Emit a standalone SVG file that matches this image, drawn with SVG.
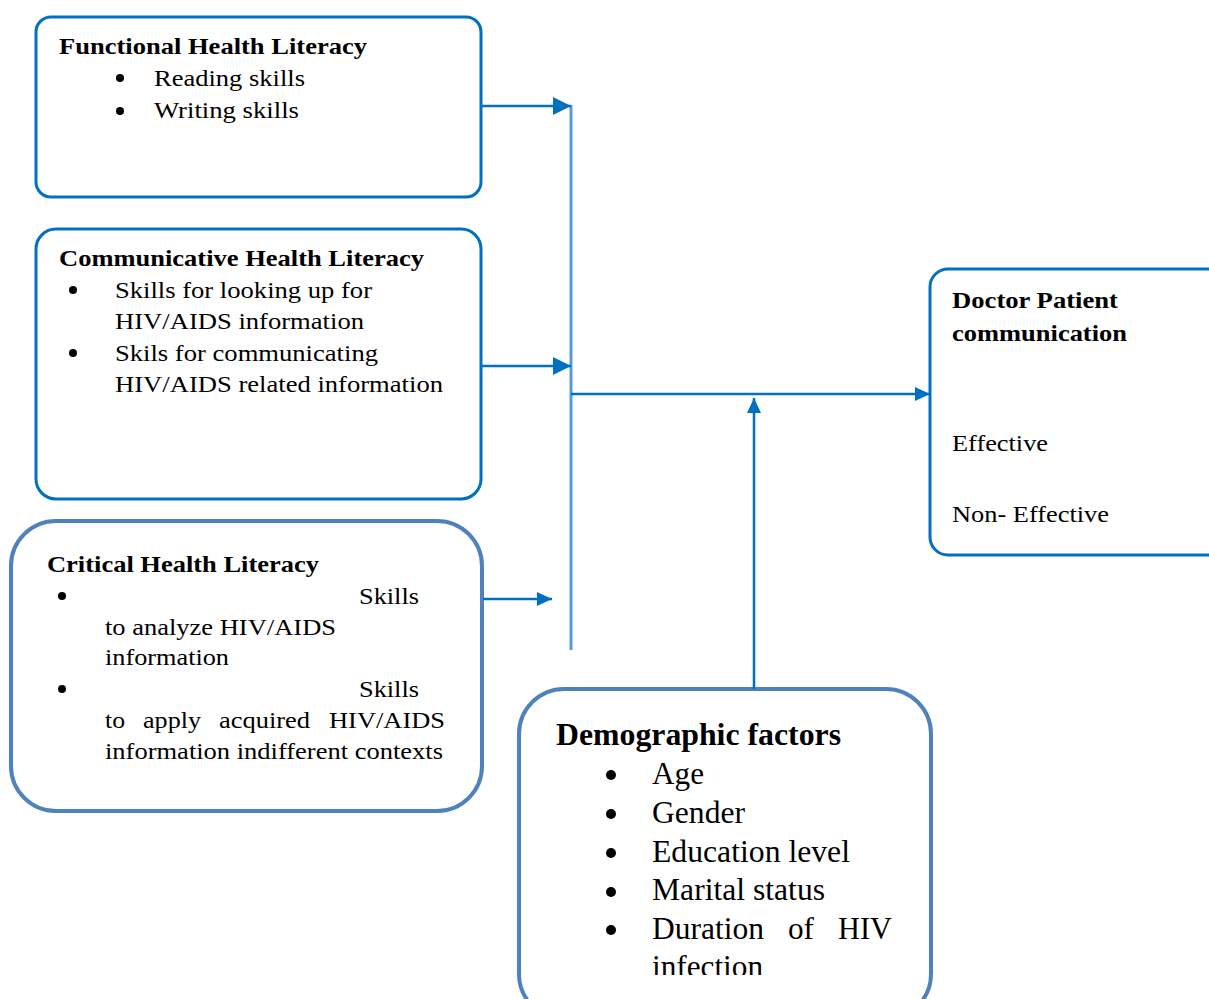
<svg xmlns="http://www.w3.org/2000/svg" width="1209" height="999" viewBox="0 0 1209 999">
<style>
.t{font-family:"Liberation Serif","Times New Roman",serif;font-size:23px;fill:#000}
.b{font-weight:bold}
.big{font-size:31px}
.box1{fill:#fff;stroke:#0070C0;stroke-width:3}
.box2{fill:#fff;stroke:#4F81BD;stroke-width:4}
.con{stroke:#0070C0;stroke-width:2.5;fill:none}
.spine{stroke:#5B9BD5;stroke-width:3;fill:none}
</style>
<defs>
<marker id="ah" markerUnits="userSpaceOnUse" markerWidth="20" markerHeight="20" refX="18" refY="9" orient="auto">
<path d="M0,0 L18,9 L0,18 Z" fill="#0070C0"/>
</marker>
<marker id="ahs" markerUnits="userSpaceOnUse" markerWidth="16" markerHeight="16" refX="15" refY="7" orient="auto">
<path d="M0,0 L15,7 L0,14 Z" fill="#0070C0"/>
</marker>
<clipPath id="clipDemo"><rect x="519" y="689" width="412" height="286"/></clipPath>
</defs>

<g id="functional">
<rect class="box1" x="36" y="17" width="445" height="180" rx="15"/>
<text class="t b" x="59" y="54" textLength="308" lengthAdjust="spacingAndGlyphs">Functional Health Literacy</text>
<circle cx="120" cy="78" r="4"/>
<text class="t" x="154" y="86" textLength="151" lengthAdjust="spacingAndGlyphs">Reading skills</text>
<circle cx="120" cy="111" r="4"/>
<text class="t" x="154" y="118" textLength="145" lengthAdjust="spacingAndGlyphs">Writing skills</text>
</g>

<g id="communicative">
<rect class="box1" x="36" y="229" width="445" height="270" rx="20"/>
<text class="t b" x="59" y="266" textLength="365" lengthAdjust="spacingAndGlyphs">Communicative Health Literacy</text>
<circle cx="73" cy="290" r="4"/>
<text class="t" x="115" y="298" textLength="257" lengthAdjust="spacingAndGlyphs">Skills for looking up for</text>
<text class="t" x="115" y="329" textLength="249" lengthAdjust="spacingAndGlyphs">HIV/AIDS information</text>
<circle cx="73" cy="353" r="4"/>
<text class="t" x="115" y="361" textLength="263" lengthAdjust="spacingAndGlyphs">Skils for communicating</text>
<text class="t" x="115" y="392" textLength="328" lengthAdjust="spacingAndGlyphs">HIV/AIDS related information</text>
</g>

<g id="critical">
<rect class="box2" x="11" y="521" width="471" height="290" rx="45"/>
<text class="t b" x="47" y="572" textLength="272" lengthAdjust="spacingAndGlyphs">Critical Health Literacy</text>
<circle cx="62" cy="596" r="4"/>
<text class="t" x="359" y="604" textLength="60" lengthAdjust="spacingAndGlyphs">Skills</text>
<text class="t" x="105" y="635" textLength="231" lengthAdjust="spacingAndGlyphs">to analyze HIV/AIDS</text>
<text class="t" x="105" y="665" textLength="124" lengthAdjust="spacingAndGlyphs">information</text>
<circle cx="62" cy="689" r="4"/>
<text class="t" x="359" y="697" textLength="60" lengthAdjust="spacingAndGlyphs">Skills</text>
<text class="t" x="105" y="728" textLength="20" lengthAdjust="spacingAndGlyphs">to</text>
<text class="t" x="143" y="728" textLength="58" lengthAdjust="spacingAndGlyphs">apply</text>
<text class="t" x="219" y="728" textLength="91" lengthAdjust="spacingAndGlyphs">acquired</text>
<text class="t" x="329" y="728" textLength="116" lengthAdjust="spacingAndGlyphs">HIV/AIDS</text>
<text class="t" x="105" y="759" textLength="338" lengthAdjust="spacingAndGlyphs">information indifferent contexts</text>
</g>

<g id="demographic">
<rect class="box2" x="519" y="689" width="412" height="330" rx="45"/>
<text class="t b big" x="556" y="745" textLength="285" lengthAdjust="spacingAndGlyphs">Demographic factors</text>
<circle cx="611" cy="775" r="5"/>
<text class="t big" x="652" y="784" textLength="52" lengthAdjust="spacingAndGlyphs">Age</text>
<circle cx="611" cy="814" r="5"/>
<text class="t big" x="652" y="823" textLength="93" lengthAdjust="spacingAndGlyphs">Gender</text>
<circle cx="611" cy="853" r="5"/>
<text class="t big" x="652" y="862" textLength="198" lengthAdjust="spacingAndGlyphs">Education level</text>
<circle cx="611" cy="892" r="5"/>
<text class="t big" x="652" y="900" textLength="173" lengthAdjust="spacingAndGlyphs">Marital status</text>
<circle cx="611" cy="930" r="5"/>
<text class="t big" x="652" y="939" textLength="112" lengthAdjust="spacingAndGlyphs">Duration</text>
<text class="t big" x="788" y="939" textLength="26" lengthAdjust="spacingAndGlyphs">of</text>
<text class="t big" x="838" y="939" textLength="54" lengthAdjust="spacingAndGlyphs">HIV</text>
<text class="t big" x="652" y="977" textLength="111" lengthAdjust="spacingAndGlyphs" clip-path="url(#clipDemo)">infection</text>
</g>

<g id="outcome">
<rect class="box1" x="930" y="269" width="300" height="286" rx="18"/>
<text class="t b" x="952" y="308" textLength="166" lengthAdjust="spacingAndGlyphs">Doctor Patient</text>
<text class="t b" x="952" y="341" textLength="175" lengthAdjust="spacingAndGlyphs">communication</text>
<text class="t" x="952" y="451" textLength="96" lengthAdjust="spacingAndGlyphs">Effective</text>
<text class="t" x="952" y="522" textLength="157" lengthAdjust="spacingAndGlyphs">Non- Effective</text>
</g>

<g id="connectors">
<line class="spine" x1="571" y1="105" x2="571" y2="650"/>
<line class="con" x1="482" y1="106" x2="571" y2="106" marker-end="url(#ah)"/>
<line class="con" x1="482" y1="366" x2="571" y2="366" marker-end="url(#ah)"/>
<line class="con" x1="483" y1="599" x2="552" y2="599" marker-end="url(#ahs)"/>
<line class="con" x1="571" y1="394" x2="930" y2="394" marker-end="url(#ahs)"/>
<line class="con" x1="754" y1="689" x2="754" y2="398" marker-end="url(#ahs)"/>
</g>
</svg>
